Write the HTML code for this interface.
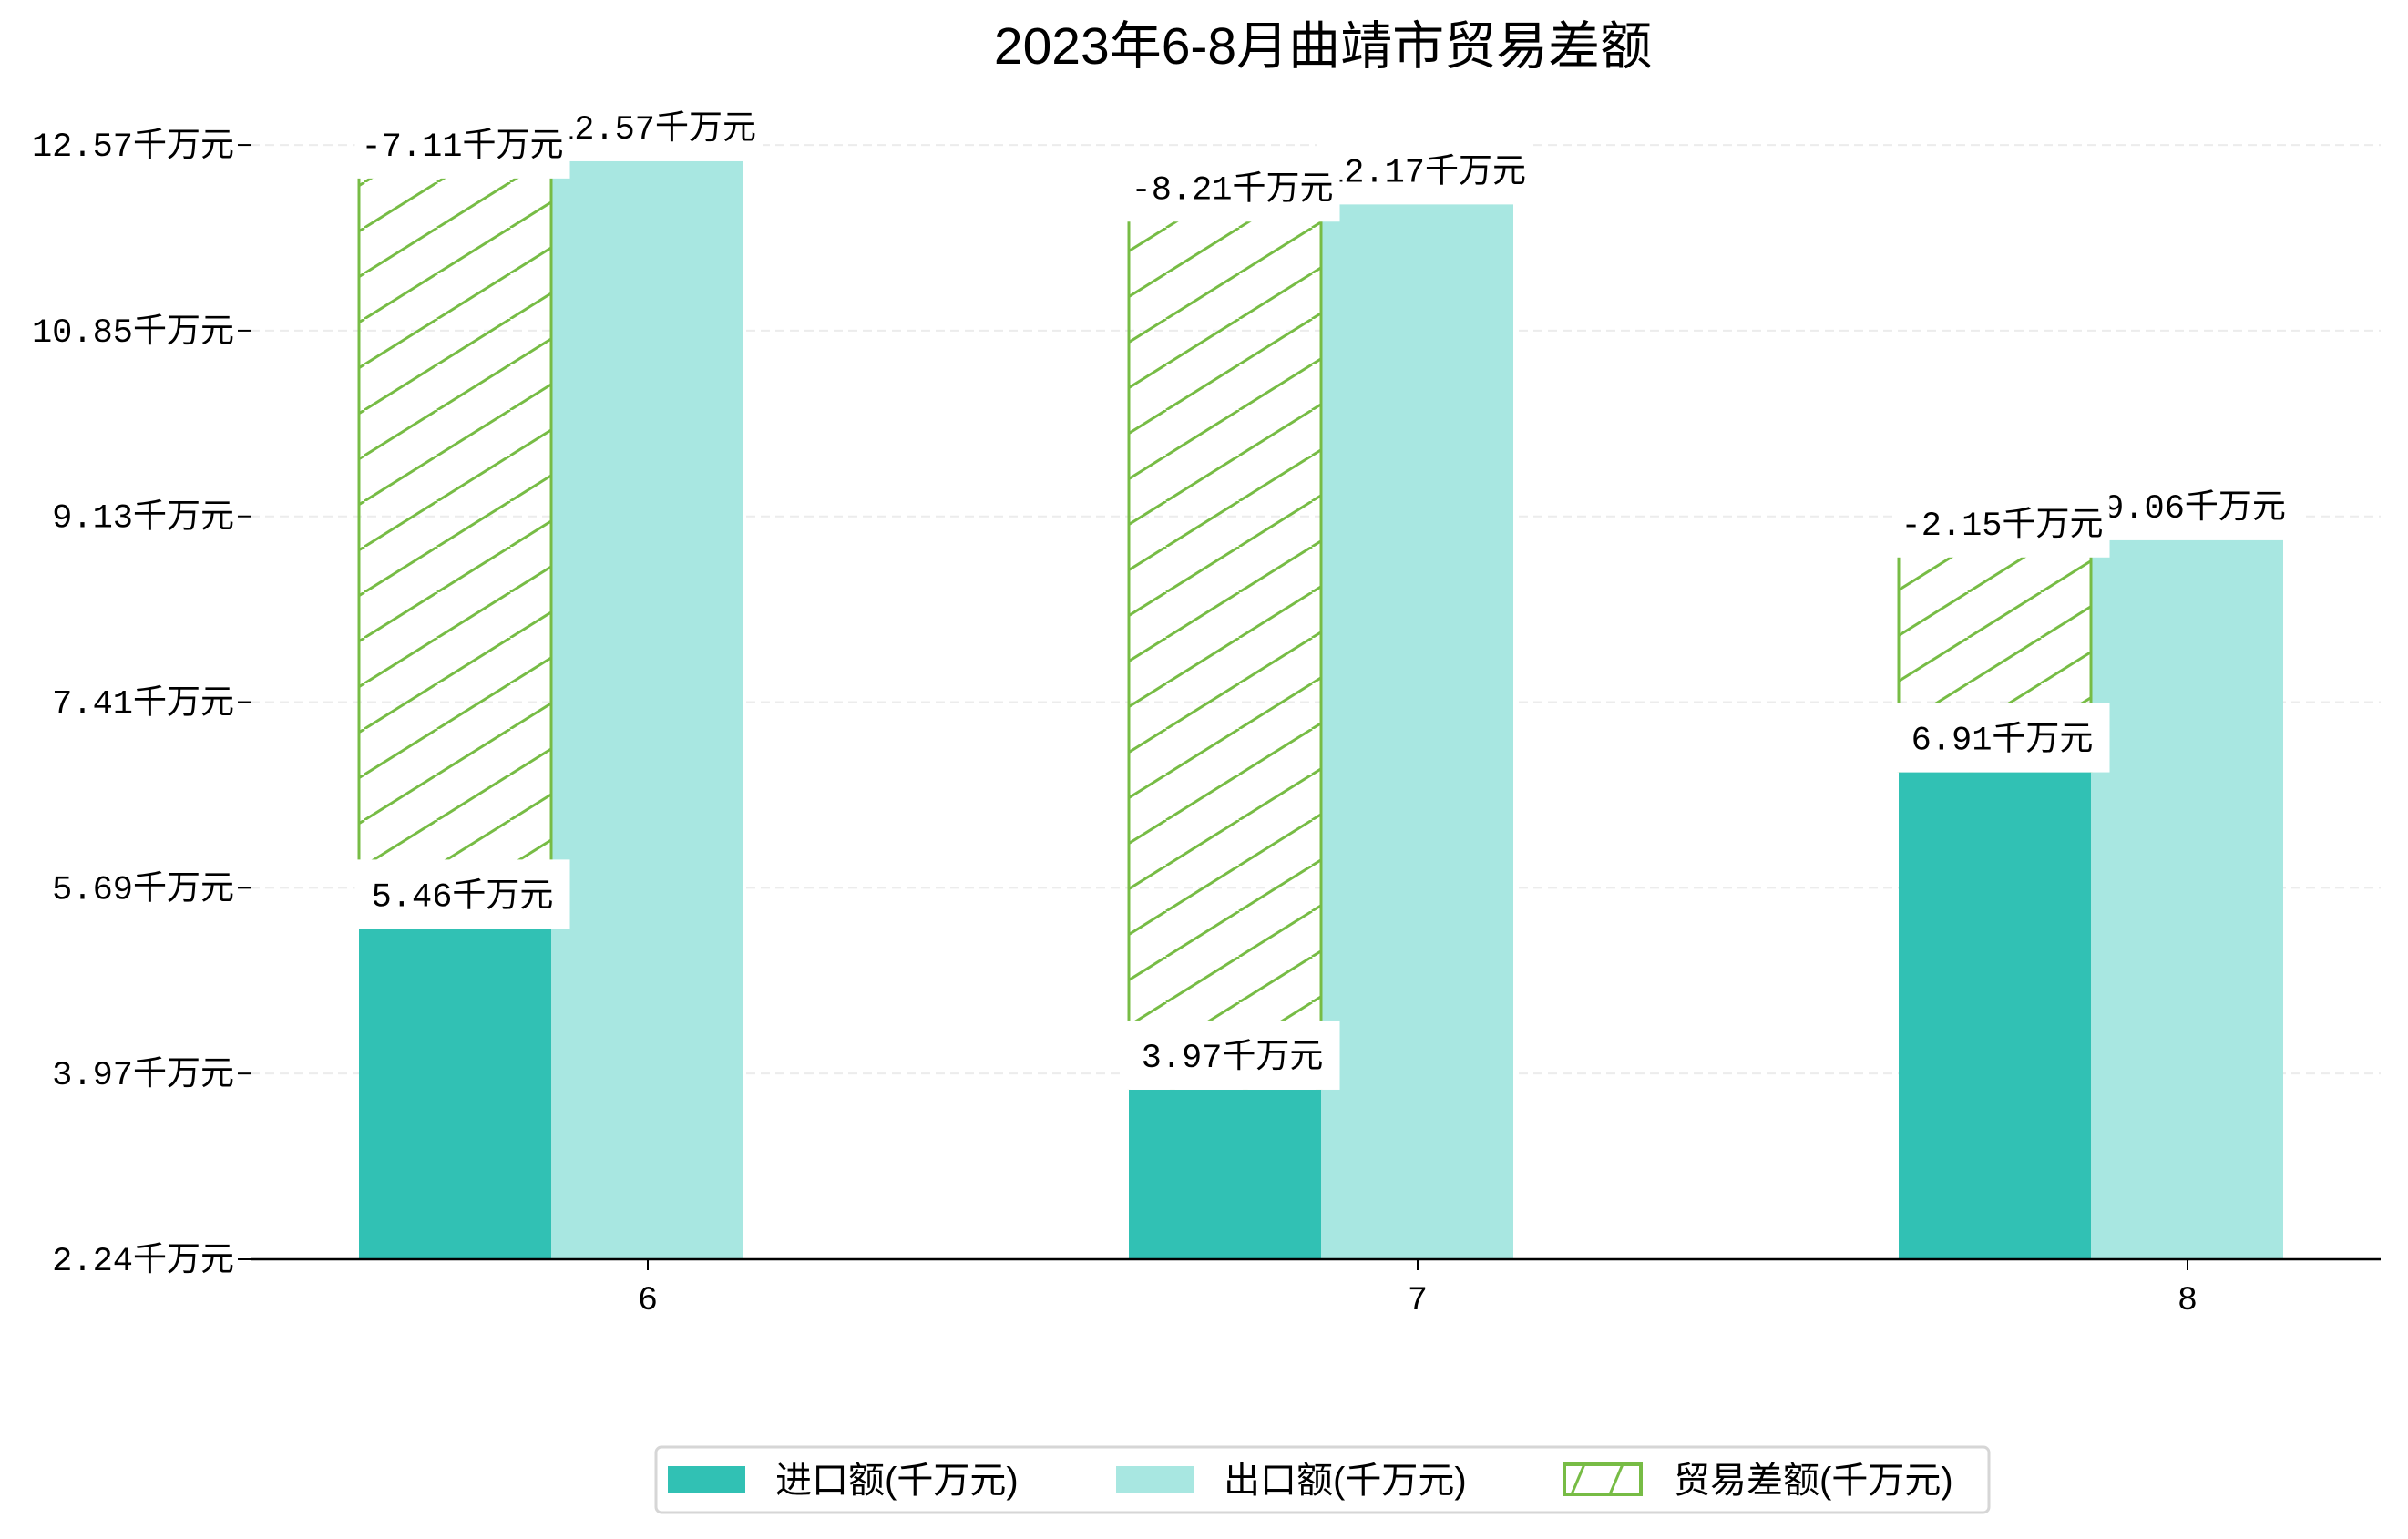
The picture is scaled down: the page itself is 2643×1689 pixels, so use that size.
<!DOCTYPE html>
<html><head><meta charset="utf-8"><style>
html,body{margin:0;padding:0;background:#fff;}
svg{display:block;}
.tick{font-family:"Liberation Mono","Noto Sans CJK SC",monospace;font-size:37px;fill:#000;}
.val{font-family:"Liberation Mono","Noto Sans CJK SC",monospace;font-size:37px;fill:#000;}
.leg{font-family:"Liberation Sans","Noto Sans CJK SC",sans-serif;font-size:40px;fill:#000;}
</style></head><body>
<svg id="chart" width="2643" height="1689" viewBox="0 0 2643 1689" xmlns="http://www.w3.org/2000/svg">
<defs>
<pattern id="hatch" patternUnits="userSpaceOnUse" width="80" height="50">
<line x1="0" y1="50" x2="80" y2="0" stroke="#77bc45" stroke-width="3"/>
<line x1="-80" y1="50" x2="0" y2="0" stroke="#77bc45" stroke-width="3"/>
<line x1="80" y1="50" x2="160" y2="0" stroke="#77bc45" stroke-width="3"/>
</pattern>
<pattern id="hatchLeg" patternUnits="userSpaceOnUse" width="42" height="33" x="1717" y="1607">
<line x1="8" y1="33" x2="22" y2="0" stroke="#77bc45" stroke-width="3"/>
</pattern>
</defs>
<text x="1452" y="70" text-anchor="middle" font-family="Liberation Sans, Noto Sans CJK SC, sans-serif" font-size="57">2023年6-8月曲靖市贸易差额</text>
<g id="grid"></g><g id="bars"></g><g id="labels"></g><g id="axes"></g>
<g>
<rect x="720" y="1588" width="1463" height="72" rx="6" fill="#fff" stroke="#d6d6d6" stroke-width="3"/>
<rect x="733" y="1609" width="85" height="29" fill="#31c1b4"/>
<text class="leg" x="851" y="1638">进口额(千万元)</text>
<rect x="1225" y="1609" width="85" height="29" fill="#a8e7e1"/>
<text class="leg" x="1343" y="1638">出口额(千万元)</text>
<rect x="1717" y="1607" width="84" height="33" fill="url(#hatchLeg)" stroke="#77bc45" stroke-width="4"/>
<text class="leg" x="1837" y="1638">贸易差额(千万元)</text>
</g>
</svg>
<script>
const categories = ['6','7','8'];
const importVals = [5.46, 3.97, 6.91];
const exportVals = [12.57, 12.17, 9.06];
const balanceVals = [-7.11, -8.21, -2.15];
const tickValues = [2.40, 4.12, 5.84, 7.56, 9.28, 11.00, 12.72];
const tickLabels = ['2.24千万元','3.97千万元','5.69千万元','7.41千万元','9.13千万元','10.85千万元','12.57千万元'];

const NS='http://www.w3.org/2000/svg';
const Y0=1382, VMIN=2.40, K=118.5;
const y=v=>Y0-(v-VMIN)*K;
const X0=605, STEP=845, BW=211;
const xc=i=>X0+i*STEP;
const AXL=275, AXR=2613;
function mk(tag,attrs,parent){const e=document.createElementNS(NS,tag);for(const k in attrs)e.setAttribute(k,attrs[k]);parent.appendChild(e);return e;}
const grid=document.getElementById('grid'),bars=document.getElementById('bars'),labels=document.getElementById('labels'),axes=document.getElementById('axes');

tickValues.forEach((v,i)=>{
  const yy=y(v);
  if(i>0){const g=mk('line',{x1:AXL,x2:AXR,y1:yy,y2:yy,stroke:'#ececec','stroke-width':2,'stroke-dasharray':'10,6'},grid);
  
  }
  const t=mk('line',{x1:AXL-14,x2:AXL,y1:yy,y2:yy,stroke:'#000','stroke-width':2},axes);
  
  
  const tx=mk('text',{x:AXL-18,y:yy+12,'text-anchor':'end',class:'tick'},axes);
  tx.textContent=tickLabels[i];
  
  
});
const ax=mk('line',{x1:AXL,x2:AXR,y1:Y0,y2:Y0,stroke:'#000','stroke-width':2.5},axes);



function label(txt,cx,cyBottom,name){
  const w=236;
  const r=mk('rect',{x:cx-w/2+4,y:cyBottom-76,width:w,height:76,fill:'#fff'},labels);
  
  
  const t=mk('text',{x:cx+4,y:cyBottom-25,'text-anchor':'middle',class:'val'},labels);
  t.textContent=txt;
  
  
}

categories.forEach((c,i)=>{
  const cx=xc(i), yi=y(importVals[i]), ye=y(exportVals[i]);
  const bi=mk('rect',{x:cx-BW,y:yi,width:BW,height:Y0-yi,fill:'#31c1b4'},bars);
  
  
  const be=mk('rect',{x:cx,y:ye,width:BW,height:Y0-ye,fill:'#a8e7e1'},bars);
  
  
  const bh=mk('rect',{x:cx-BW,y:ye,width:BW,height:yi-ye,fill:'url(#hatch)'},bars);
  
  
  [cx-BW,cx].forEach(xx=>{const l=mk('line',{x1:xx,x2:xx,y1:ye,y2:yi,stroke:'#77bc45','stroke-width':3},bars);
    
    });
  const tk=mk('line',{x1:cx+106,x2:cx+106,y1:Y0,y2:Y0+12,stroke:'#000','stroke-width':2},axes);
  
  
  const xt=mk('text',{x:cx+106,y:Y0+55,'text-anchor':'middle',class:'tick'},axes);
  xt.textContent=c;
  
  
  label(exportVals[i].toFixed(2)+'千万元',cx+110,ye,'export-value-label');
  label(balanceVals[i].toFixed(2)+'千万元',cx-BW/2+4,ye+19,'balance-value-label');
  label(importVals[i].toFixed(2)+'千万元',cx-BW/2+4,yi,'import-value-label');
});
</script>
</body></html>
